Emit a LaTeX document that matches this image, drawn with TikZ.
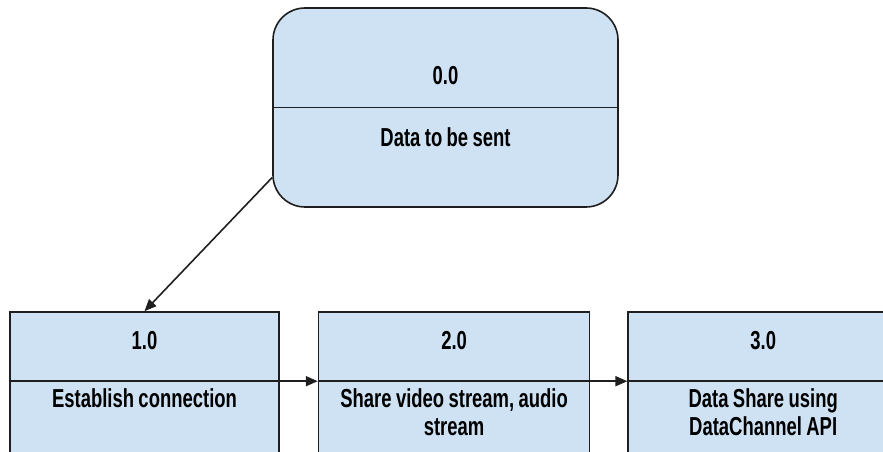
\documentclass[tikz,border=0pt]{standalone}
\usepackage{fontspec}
\setmainfont[FakeStretch=0.71, WordSpace=0.85]{Liberation Sans}
\usetikzlibrary{arrows.meta,positioning,calc}
\definecolor{boxblue}{HTML}{CFE2F3}
\definecolor{boxline}{HTML}{1F1F1F}

\begin{document}
\begin{tikzpicture}[x=1pt, y=1pt,
    box/.style={draw=boxline, line width=1.6pt, fill=boxblue,
                minimum width=270pt, minimum height=160pt, inner sep=0pt},
    topbox/.style={box, rounded corners=32pt,
                minimum width=345pt, minimum height=199pt},
    num/.style={font=\bfseries\fontsize{26}{28}\selectfont, inner sep=0pt},
    txt/.style={num, align=center, anchor=north},
    flow/.style={draw=boxline, line width=1.6pt,
                -{Triangle[length=12pt,width=10pt]}}
    ]
    \clip (0,0) rectangle (883,452);
    \useasboundingbox (0,0) rectangle (883,452);
    % Process 0.0 -----------------------------------------------------
    \node[topbox] (p0) at (445.5,344.5) {};
    \draw[boxline, line width=1.6pt] (p0.west |- p0.center) -- (p0.east |- p0.center);
    \node[num] (p0-num) at ([yshift=32pt]p0.center) {0.0};
    \node[num] (p0-txt) at ([yshift=-30pt]p0.center) {Data to be sent};

    % Processes 1.0 - 3.0 ---------------------------------------------
    \node[box, minimum width=269pt] (p1) at (144.5,60) {};
    \node[box, minimum width=271pt, right=38pt of p1] (p2) {};
    \node[box, right=37pt of p2] (p3) {};
    \foreach \p/\n/\t in {p1/1.0/Establish connection,
                          p2/2.0/Share video stream{,} audio\\stream,
                          p3/3.0/Data Share using\\DataChannel API}
    {
        \coordinate (\p-div) at ([yshift=-70pt]\p.north);
        \draw[boxline, line width=1.6pt] (\p.west |- \p-div) -- (\p.east |- \p-div);
        \node[num] (\p-num) at ([yshift=-29pt]\p.north) {\n};
        \node[txt] (\p-txt) at ([yshift=-7pt]\p-div) {\t};
    }

    % Flows -----------------------------------------------------------
    \draw[flow] ([yshift=-70pt]p0.west) -- (p1.north);
    \draw[flow] (p1.east |- p1-div) -- (p2.west |- p2-div);
    \draw[flow] (p2.east |- p2-div) -- (p3.west |- p3-div);
\end{tikzpicture}
\end{document}
